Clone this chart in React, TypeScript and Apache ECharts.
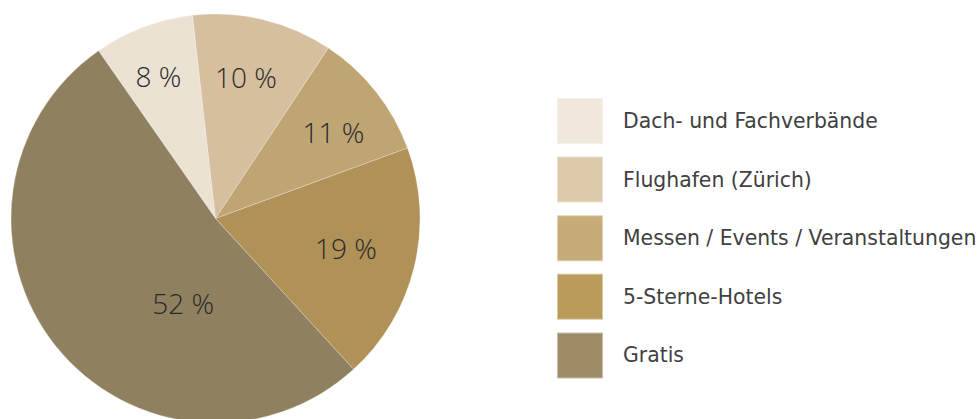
import React, { useEffect, useRef } from "react";
import * as echarts from "echarts";

const categories = [
  "Dach- und Fachverbände",
  "Flughafen (Zürich)",
  "Messen / Events / Veranstaltungen",
  "5-Sterne-Hotels",
  "Gratis",
];
// shares as measured from the slice angles
const shares = [7.9, 11.1, 10.1, 18.8, 52.1];
// printed labels
const labels = ["8 %", "10 %", "11 %", "19 %", "52 %"];
const sliceColors = ["#EBE2D3", "#D5BF9E", "#BFA574", "#B09157", "#8F805F"];
const legendColors = ["#F0E8DC", "#DCC9A9", "#C6AC78", "#B99B5A", "#9C8B65"];

// label nudges: padding [top, right, bottom, left]
const labelPads = [
  [0, 10, 8, 0],
  [4, 8, 0, 0],
  [11, 0, 0, 4],
  [0, 26, 11, 0],
  [0, 0, 16, 166],
];

export default function App() {
  const ref = useRef<HTMLDivElement>(null);
  useEffect(() => {
    if (!ref.current) return;
    const chart = echarts.init(ref.current, undefined, { renderer: "svg" });
    const center = [215.5, 218.5];
    const R = 204.5;
    const labelFont = {
      fontFamily: "Open Sans",
      fontWeight: 300,
      fontSize: 28,
      color: "#2a2a2a",
    };
    chart.setOption({
      animation: false,
      backgroundColor: "#ffffff",
      legend: {
        orient: "vertical",
        left: 556,
        top: 97,
        padding: 0,
        itemWidth: 46,
        itemHeight: 46,
        itemGap: 10.6,
        selectedMode: false,
        icon: "rect",
        textStyle: {
          fontFamily: "DejaVu Sans",
          fontSize: 20.4,
          color: "#404040",
          padding: [0, 0, 0, 15],
        },
        data: categories.map((c, i) => ({
          name: c,
          itemStyle: { color: legendColors[i] },
        })),
      },
      series: [
        {
          type: "pie",
          center,
          radius: [0, R],
          startAngle: 124.9,
          clockwise: true,
          silent: true,
          label: { show: false },
          labelLine: { show: false },
          itemStyle: { borderColor: "rgba(255,255,255,0.45)", borderWidth: 0.6 },
          data: categories.map((c, i) => ({
            name: c,
            value: shares[i],
            itemStyle: { color: sliceColors[i] },
          })),
        },
        {
          type: "pie",
          center,
          radius: [85, R],
          startAngle: 124.9,
          clockwise: true,
          silent: true,
          itemStyle: { color: "rgba(0,0,0,0)" },
          labelLine: { show: false },
          label: {
            show: true,
            position: "inside",
            ...labelFont,
            formatter: (p: any) => "{v|" + labels[p.dataIndex] + "}",
            rich: { v: { ...labelFont } },
          },
          data: categories.map((c, i) => ({
            name: c,
            value: shares[i],
            label: { padding: labelPads[i] },
          })),
        },
      ],
    });
    return () => chart.dispose();
  }, []);
  return (
    <div
      ref={ref}
      style={{ position: "fixed", left: 0, top: 0, width: 978, height: 419 }}
    />
  );
}
